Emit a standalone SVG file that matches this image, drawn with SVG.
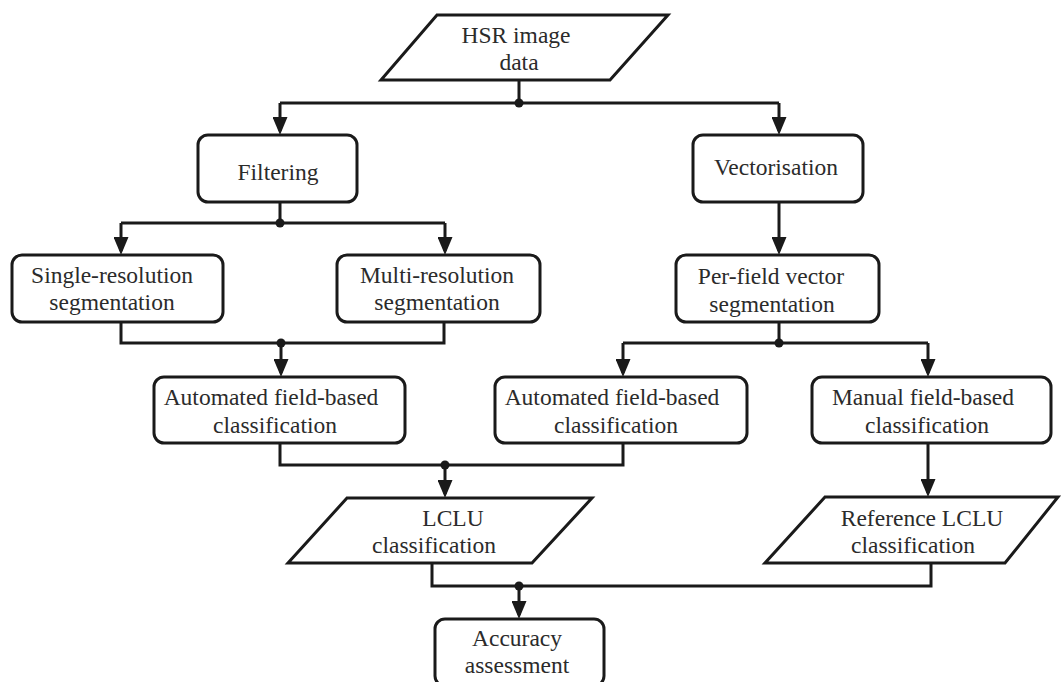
<svg xmlns="http://www.w3.org/2000/svg" width="1062" height="682" viewBox="0 0 1062 682">
<style>
.box{fill:#fff;stroke:#1a1a1a;stroke-width:3}
.para{fill:#fff;stroke:#1a1a1a;stroke-width:3;stroke-linejoin:miter}
.t{font-family:"Liberation Serif","Times New Roman",serif;font-size:23.5px;fill:#2b2b2b;text-anchor:middle}
.c{fill:none;stroke:#1a1a1a;stroke-width:3}
.dot{fill:#1a1a1a}
</style>
<defs>
<marker id="arr" viewBox="0 0 18 15" refX="14" refY="7.5" markerWidth="18" markerHeight="15" markerUnits="userSpaceOnUse" orient="auto">
<path d="M0,0 L18,7.5 L0,15 z" fill="#1a1a1a"/>
</marker>
</defs>
<rect width="1062" height="682" fill="#fff"/>
<g id="connectors">
<path class="c" d="M519,80 V103 M280,103 H779"/>
<path class="c" d="M280,103 V131" marker-end="url(#arr)"/>
<path class="c" d="M779,103 V131" marker-end="url(#arr)"/>
<path class="c" d="M280,202 V223 M121,223 H445"/>
<path class="c" d="M121,223 V251" marker-end="url(#arr)"/>
<path class="c" d="M445,223 V251" marker-end="url(#arr)"/>
<path class="c" d="M779,202 V251" marker-end="url(#arr)"/>
<path class="c" d="M121,322 V343 H444 V322"/>
<path class="c" d="M281,343 V373" marker-end="url(#arr)"/>
<path class="c" d="M779,322 V343 M623,343 H928"/>
<path class="c" d="M623,343 V373" marker-end="url(#arr)"/>
<path class="c" d="M928,343 V373" marker-end="url(#arr)"/>
<path class="c" d="M280,443 V465 H623 V443"/>
<path class="c" d="M445,465 V494" marker-end="url(#arr)"/>
<path class="c" d="M928,443 V493" marker-end="url(#arr)"/>
<path class="c" d="M432,563 V586 H931 V563"/>
<path class="c" d="M519,586 V615" marker-end="url(#arr)"/>
<circle class="dot" cx="519" cy="103" r="4.5"/>
<circle class="dot" cx="280" cy="223" r="4.5"/>
<circle class="dot" cx="281" cy="343" r="4.5"/>
<circle class="dot" cx="779" cy="343" r="4.5"/>
<circle class="dot" cx="445" cy="465" r="4.5"/>
<circle class="dot" cx="519" cy="586" r="4.5"/>
</g>
<g id="hsr">
<polygon class="para" points="437,15 668,15 610,80 381,80"/>
<text class="t" x="516" y="43">HSR image</text>
<text class="t" x="519" y="70">data</text>
</g>
<g id="filtering">
<rect class="box" x="198" y="135" width="159" height="67" rx="10"/>
<text class="t" x="278" y="180">Filtering</text>
</g>
<g id="vectorisation">
<rect class="box" x="693" y="135" width="170" height="67" rx="10"/>
<text class="t" x="776" y="175">Vectorisation</text>
</g>
<g id="single">
<rect class="box" x="12" y="255" width="211" height="67" rx="10"/>
<text class="t" x="112" y="283">Single-resolution</text>
<text class="t" x="112" y="310">segmentation</text>
</g>
<g id="multi">
<rect class="box" x="337" y="255" width="203" height="67" rx="10"/>
<text class="t" x="437" y="283">Multi-resolution</text>
<text class="t" x="437" y="310">segmentation</text>
</g>
<g id="perfield">
<rect class="box" x="676" y="255" width="203" height="67" rx="10"/>
<text class="t" x="771" y="284">Per-field vector</text>
<text class="t" x="772" y="312">segmentation</text>
</g>
<g id="auto1">
<rect class="box" x="154" y="377" width="251" height="66" rx="10"/>
<text class="t" x="271" y="405">Automated field-based</text>
<text class="t" x="275" y="433">classification</text>
</g>
<g id="auto2">
<rect class="box" x="495" y="377" width="252" height="66" rx="10"/>
<text class="t" x="612" y="405">Automated field-based</text>
<text class="t" x="616" y="433">classification</text>
</g>
<g id="manual">
<rect class="box" x="812" y="377" width="239" height="66" rx="10"/>
<text class="t" x="923" y="405">Manual field-based</text>
<text class="t" x="927" y="433">classification</text>
</g>
<g id="lclu">
<polygon class="para" points="347,498 592,498 532,563 288,563"/>
<text class="t" x="453" y="526">LCLU</text>
<text class="t" x="434" y="553">classification</text>
</g>
<g id="reflclu">
<polygon class="para" points="825,497 1058,497 1005,563 765,563"/>
<text class="t" x="922" y="526">Reference LCLU</text>
<text class="t" x="913" y="553">classification</text>
</g>
<g id="accuracy">
<rect class="box" x="435" y="619" width="169" height="67" rx="10"/>
<text class="t" x="517" y="646">Accuracy</text>
<text class="t" x="517" y="673">assessment</text>
</g>
</svg>
